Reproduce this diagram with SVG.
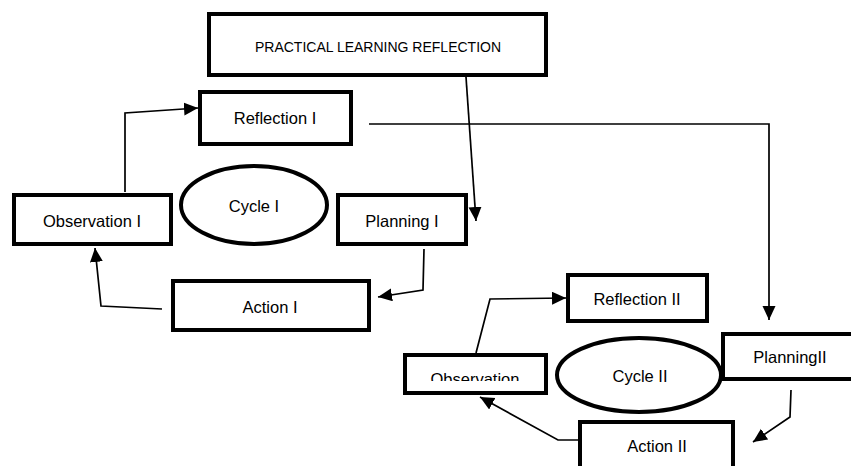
<svg xmlns="http://www.w3.org/2000/svg" width="851" height="466" viewBox="0 0 851 466">
<style>
.box{fill:#fff;stroke:#000;stroke-width:4}
.ell{fill:#fff;stroke:#000;stroke-width:4}
.lbl{font-family:"Liberation Sans",Arial,sans-serif;font-size:16.5px;fill:#000;text-anchor:middle}
.ttl{font-family:"Liberation Sans",Arial,sans-serif;font-size:14px;fill:#000;text-anchor:middle}
.con{fill:none;stroke:#000;stroke-width:1.7;marker-end:url(#ah)}
</style>
<defs>
<marker id="ah" markerUnits="userSpaceOnUse" markerWidth="15" markerHeight="14" refX="14" refY="6.5" orient="auto">
<path d="M0,0 L14,6.5 L0,13 z" fill="#000"/>
</marker>
<clipPath id="obsclip"><rect x="405" y="355" width="141" height="26"/></clipPath>
</defs>
<rect width="851" height="466" fill="#fff"/>
<g id="connectors">
<path class="con" d="M466,77 L476,221"/>
<path class="con" d="M125,192 L125,113 L198,108"/>
<path class="con" d="M369,124 L769,124 L769,320"/>
<path class="con" d="M424,249 L423,290 L378,297"/>
<path class="con" d="M162,309 L101,306 L95,248"/>
<path class="con" d="M476,353 L490,299 L566,298"/>
<path class="con" d="M583,440 L558,440 L480,397"/>
<path class="con" d="M791,390 L790,417 L753,442"/>
</g>
<g id="title">
<rect class="box" x="209" y="14" width="337" height="61"/>
<text class="ttl" x="378" y="52">PRACTICAL LEARNING REFLECTION</text>
</g>
<g id="reflection1">
<rect class="box" x="200" y="92" width="151" height="52"/>
<text class="lbl" x="275" y="124">Reflection I</text>
</g>
<g id="observation1">
<rect class="box" x="14" y="195" width="157" height="49"/>
<text class="lbl" x="92" y="227">Observation I</text>
</g>
<g id="cycle1">
<ellipse class="ell" cx="254" cy="205" rx="73" ry="39"/>
<text class="lbl" x="254" y="212">Cycle I</text>
</g>
<g id="planning1">
<rect class="box" x="338" y="195" width="128" height="49"/>
<text class="lbl" x="402" y="227">Planning I</text>
</g>
<g id="action1">
<rect class="box" x="173" y="281" width="196" height="49"/>
<text class="lbl" x="270" y="313">Action I</text>
</g>
<g id="reflection2">
<rect class="box" x="568" y="275" width="139" height="46"/>
<text class="lbl" x="637" y="305">Reflection II</text>
</g>
<g id="observation2">
<rect class="box" x="405" y="355" width="141" height="38"/>
<text class="lbl" x="475" y="385" clip-path="url(#obsclip)">Observation</text>
</g>
<g id="cycle2">
<ellipse class="ell" cx="639" cy="375" rx="82" ry="37"/>
<text class="lbl" x="640" y="382">Cycle II</text>
</g>
<g id="planning2">
<rect class="box" x="723" y="334" width="140" height="45"/>
<text class="lbl" x="790" y="363">PlanningII</text>
</g>
<g id="action2">
<rect class="box" x="580" y="422" width="153" height="60"/>
<text class="lbl" x="657" y="452">Action II</text>
</g>
</svg>
